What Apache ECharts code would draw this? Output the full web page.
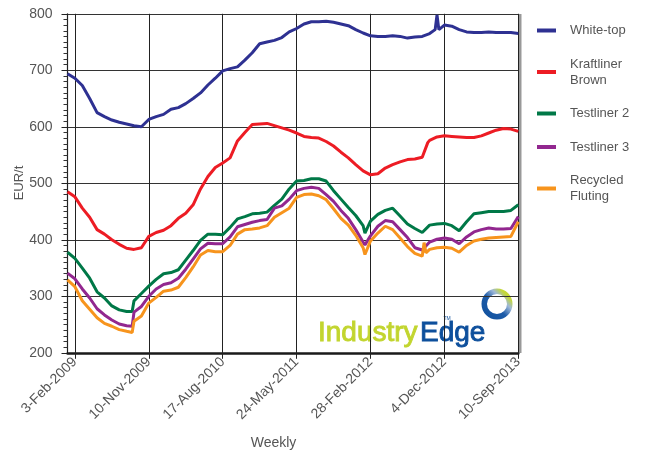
<!DOCTYPE html>
<html>
<head>
<meta charset="utf-8">
<script src="https://cdn.jsdelivr.net/npm/echarts@6/dist/echarts.min.js"></script>
<style>
  html, body { margin: 0; padding: 0; background: #fff; }
  #chart { width: 645px; height: 455px; }
</style>
</head>
<body>
<div id="chart"></div>
<script>
  // weekly x axis: 6-Jan-2009 .. 10-Sep-2013, labelled every 40 weeks from 3-Feb-2009
  const tickLabels = ['3-Feb-2009', '10-Nov-2009', '17-Aug-2010', '24-May-2011', '28-Feb-2012', '4-Dec-2012', '10-Sep-2013']
  const seriesNames = ['White-top', 'Kraftliner\nBrown', 'Testliner 2', 'Testliner 3', 'Recycled\nFluting']
  const seriesColors = ['#2e3192', '#ed1c24', '#007847', '#92278f', '#f7941d']

  // values read every 4 weeks, week 0 = 3-Feb-2009
  const sampleWeeks = [-4, 0, 4, 8, 12, 16, 20, 24, 28, 32,
    36, 40, 44, 48, 52, 56, 60, 64, 68, 72,
    76, 80, 84, 88, 92, 96, 100, 104, 108, 112,
    116, 120, 124, 128, 132, 136, 140, 144, 148, 152,
    156, 160, 164, 168, 172, 176, 180, 184, 188, 192,
    196, 200, 204, 208, 212, 216, 220, 224, 228, 232,
    236, 240]

  const whiteTop = [694, 686, 673, 650, 625, 618, 612, 608, 605, 602,
    600, 613, 618, 622, 631, 634, 641, 650, 660, 674,
    686, 699, 703, 706, 718, 731, 747, 750, 753, 758,
    768, 774, 782, 786, 786, 787, 785, 782, 779, 772,
    766, 761, 760, 760, 761, 760, 757, 759, 760, 765,
    771, 780, 778, 772, 768, 767, 767, 768, 767, 767,
    767, 765]
  const kraftliner = [485, 476, 456, 440, 418, 410, 400, 392, 385, 383,
    386, 406, 413, 417, 425, 438, 447, 462, 490, 512,
    528, 536, 545, 575, 590, 604, 605, 606, 602, 598,
    594, 589, 583, 581, 580, 574, 566, 555, 545, 533,
    522, 515, 517, 527, 533, 538, 542, 543, 546, 576,
    582, 584, 583, 582, 581, 581, 584, 589, 594, 597,
    596, 592]
  const testliner2 = [378, 367, 350, 332, 308, 297, 283, 276, 273, 292,
    305, 318, 330, 340, 342, 347, 364, 381, 399, 410,
    410, 409, 422, 437, 441, 446, 447, 449, 461, 472,
    490, 504, 505, 508, 508, 504, 487, 472, 457, 443,
    425, 433, 445, 452, 456, 442, 428, 420, 413, 426,
    428, 429, 425, 416, 432, 446, 448, 450, 450, 450,
    452, 462]
  const testliner3 = [341, 331, 313, 297, 278, 267, 258, 251, 248, 272,
    282, 300, 313, 321, 324, 332, 348, 366, 384, 394,
    393, 393, 405, 423, 427, 431, 434, 436, 456, 460,
    472, 487, 491, 493, 491, 480, 468, 452, 438, 418,
    396, 407, 424, 434, 432, 418, 404, 386, 382, 396,
    401, 403, 401, 393, 405, 414, 418, 421, 419, 419,
    420, 441]
  const recycled = [329, 317, 292, 277, 262, 252, 247, 241, 238, 256,
    265, 288, 298, 309, 311, 316, 333, 352, 373, 381,
    379, 379, 390, 410, 418, 419, 421, 425, 440, 448,
    456, 475, 480, 481, 478, 471, 455, 438, 426, 408,
    386, 398, 412, 424, 418, 403, 388, 376, 371, 383,
    386, 387, 385, 378, 390, 398, 401, 403, 404, 405,
    406, 432]

  // sharp moves between samples: [week, value]
  const whiteTopExtra = [[195, 772], [196, 798], [197, 772]]
  const kraftlinerExtra = [[189, 548], [191, 572]]
  const testliner2Extra = [[31, 273], [157, 412]]
  const testliner3Extra = [[31, 247], [157, 391]]
  const recycledExtra = [[31, 236], [157, 374], [189, 395], [190, 377]]

  const MONTHS = ['Jan', 'Feb', 'Mar', 'Apr', 'May', 'Jun', 'Jul', 'Aug', 'Sep', 'Oct', 'Nov', 'Dec']
  const weekDates = []
  for (let i = 0; i <= 244; i++) {
    const d = new Date(Date.UTC(2009, 0, 6) + i * 7 * 86400000)
    weekDates.push(d.getUTCDate() + '-' + MONTHS[d.getUTCMonth()] + '-' + d.getUTCFullYear())
  }
  const FIRST = -4 // first category is 4 weeks before 3-Feb-2009

  function buildPairs(values, extra) {
    const m = {}
    sampleWeeks.forEach((w, i) => { m[w] = values[i] })
    extra.forEach(p => { m[p[0]] = p[1] })
    return Object.keys(m).map(Number).sort((a, b) => a - b).map(w => [w - FIRST, m[w]])
  }

  const allValues = [whiteTop, kraftliner, testliner2, testliner3, recycled]
  const allExtra = [whiteTopExtra, kraftlinerExtra, testliner2Extra, testliner3Extra, recycledExtra]

  const isTick = (index) => tickLabels.indexOf(weekDates[index]) !== -1
  const FONT = '"Liberation Sans", Arial, sans-serif'

  const chart = echarts.init(document.getElementById('chart'))
  const option = {
    animation: false,
    grid: { left: 67.5, right: 126.7, top: 13.8, bottom: 102.2 },
    legend: {
      orient: 'vertical',
      left: 537,
      top: 22.5,
      padding: 0,
      icon: 'rect',
      itemWidth: 19,
      itemHeight: 4,
      itemGap: 17.5,
      textStyle: { fontFamily: FONT, fontSize: 13, lineHeight: 16, color: '#555', padding: [0, 0, 0, 9] },
      data: seriesNames
    },
    xAxis: {
      type: 'category',
      data: weekDates,
      boundaryGap: false,
      axisLine: { lineStyle: { color: '#1a1a1a', width: 2.5 } },
      axisTick: { interval: isTick, length: 6, lineStyle: { color: '#222' } },
      axisLabel: {
        interval: isTick,
        rotate: 45,
        margin: 7,
        fontFamily: FONT,
        fontSize: 14,
        color: '#555'
      },
      splitLine: { show: true, interval: isTick, lineStyle: { color: '#222', width: 1 } }
    },
    yAxis: {
      type: 'value',
      min: 200,
      max: 800,
      interval: 100,
      axisLine: { show: true, lineStyle: { color: '#222', width: 1.2 } },
      axisTick: { show: true, length: 6, lineStyle: { color: '#222' } },
      minorTick: { show: true, splitNumber: 10, length: 4, lineStyle: { color: '#333' } },
      axisLabel: { margin: 15, fontFamily: FONT, fontSize: 14, color: '#555' },
      splitLine: { show: true, lineStyle: { color: '#333', width: 1 } }
    },
    series: seriesNames.map((name, i) => ({
      name: name,
      type: 'line',
      data: buildPairs(allValues[i], allExtra[i]),
      showSymbol: false,
      color: seriesColors[i],
      lineStyle: { width: 3, color: seriesColors[i] }
    })),
    graphic: [
      { type: 'rect', shape: { x: 519, y: 14, width: 2.5, height: 339 }, style: { fill: '#999' } },
      { type: 'text', x: 19, y: 183, rotation: Math.PI / 2, style: { x: 0, y: 0, text: 'EUR/t', font: '13px ' + FONT, fill: '#555', textAlign: 'center', textVerticalAlign: 'middle' } },
      { type: 'text', style: { x: 273.5, y: 443, text: 'Weekly', font: '14px ' + FONT, fill: '#555', textAlign: 'center', textVerticalAlign: 'middle' } },
      { type: 'text', style: { x: 318, y: 333, text: 'Industry', font: '28px ' + FONT, fill: '#c2d52f', stroke: '#c2d52f', lineWidth: 0.9, textAlign: 'left', textVerticalAlign: 'middle' } },
      { type: 'text', style: { x: 420, y: 333, text: 'Edge', font: '28px ' + FONT, fill: '#0d4f9c', stroke: '#0d4f9c', lineWidth: 0.9, textAlign: 'left', textVerticalAlign: 'middle' } },
      { type: 'text', style: { x: 447, y: 318.5, text: 'TM', font: '5px ' + FONT, fill: '#0d4f9c', textAlign: 'center', textVerticalAlign: 'middle' } },
      {
        type: 'ring',
        shape: { cx: 497, cy: 304, r: 15.5, r0: 10 },
        style: {
          fill: new echarts.graphic.LinearGradient(0, 1, 1, 0, [
            { offset: 0, color: '#0d4f9c' },
            { offset: 0.45, color: '#1d5ba8' },
            { offset: 0.65, color: '#9fb9d9' },
            { offset: 0.8, color: '#c4d838' },
            { offset: 1, color: '#c2d52f' }
          ])
        }
      }
    ]
  }
  chart.setOption(option)
</script>
</body>
</html>
